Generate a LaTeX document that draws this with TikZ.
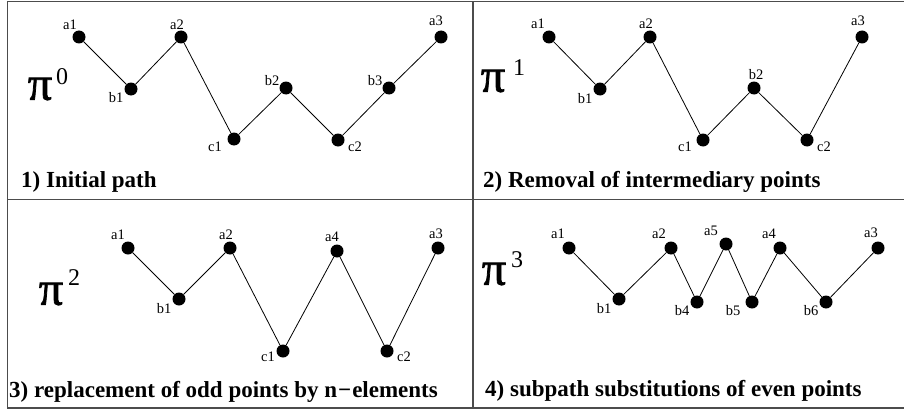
\documentclass[tikz,border=0pt]{standalone}
\usepackage{fontspec}
\setmainfont{Liberation Serif}
\newfontfamily\pifont[FakeBold=1.6]{Liberation Serif}
\usetikzlibrary{calc}
\tikzset{
  dot/.style={circle,fill=black,draw=none,minimum size=13pt,inner sep=0pt},
  lbl/.style={inner sep=0pt,font=\fontsize{14.5}{16}\selectfont},
  link/.style={draw=black,line width=0.8pt},
  frame/.style={draw=black!70,line width=1.5pt},
  ttl/.style={anchor=base west,inner sep=0pt,font=\bfseries\fontsize{23}{27}\selectfont},
  bigpi/.style={inner sep=0pt,font=\pifont\fontsize{48}{54}\selectfont},
  supd/.style={inner sep=0pt,font=\fontsize{24}{28}\selectfont}
}
\newcommand{\pnt}[6]{\node[dot] (#1) at (#2,#3) {};
  \node[lbl] (#1l) at ($(#1)+(#5,#6)$) {#4};}
\begin{document}
\begin{tikzpicture}[x=1pt,y=-1pt]
\useasboundingbox (0,0) rectangle (904,412);
% frame
\draw[frame] (904,1.5) -- (7.5,1.5) -- (7.5,408) -- (904,408);
\draw[frame] (7.5,199.5) -- (904,199.5);
\draw[frame] (473,1.5) -- (473,408);
% panel 1
\node[bigpi] (pi0) at (40,89) {π};
\node[supd] (s0) at (62,77) {0};
\pnt{pa1}{79}{37}{a1}{-9}{-12}
\pnt{pb1}{131}{89}{b1}{-15}{9}
\pnt{pa2}{181}{37}{a2}{-4}{-12}
\pnt{pc1}{234}{139}{c1}{-19}{8}
\pnt{pb2}{286}{88}{b2}{-14}{-7}
\pnt{pc2}{338}{140}{c2}{17}{7}
\pnt{pb3}{389}{88}{b3}{-14}{-7}
\pnt{pa3}{441}{37}{a3}{-5}{-16}
\draw[link] (pa1) -- (pb1) -- (pa2) -- (pc1) -- (pb2) -- (pc2) -- (pb3) -- (pa3);
\node[ttl] (t1) at (21,187) {1) Initial path};
% panel 2
\node[bigpi] (pi1) at (493,81) {π};
\node[supd] (s1) at (519,68) {1};
\pnt{qa1}{549}{37}{a1}{-11}{-13}
\pnt{qb1}{600}{89}{b1}{-15}{10}
\pnt{qa2}{650}{37}{a2}{-4}{-13}
\pnt{qc1}{703}{140}{c1}{-18}{7}
\pnt{qb2}{754}{88}{b2}{2}{-13}
\pnt{qc2}{807}{140}{c2}{17}{7}
\pnt{qa3}{862}{37}{a3}{-4}{-16}
\draw[link] (qa1) -- (qb1) -- (qa2) -- (qc1) -- (qb2) -- (qc2) -- (qa3);
\node[ttl] (t2) at (483,187) {2) Removal of intermediary points};
% panel 3
\node[bigpi] (pi2) at (51,294) {π};
\node[supd] (s2) at (74,278) {2};
\pnt{ra1}{128}{248}{a1}{-10}{-13}
\pnt{rb1}{179}{299}{b1}{-15}{10}
\pnt{ra2}{230}{248}{a2}{-4}{-13}
\pnt{rc1}{283}{351}{c1}{-15}{6}
\pnt{ra4}{337}{251}{a4}{-5}{-14}
\pnt{rc2}{387}{351}{c2}{17}{6}
\pnt{ra3}{438}{248}{a3}{-2}{-14}
\draw[link] (ra1) -- (rb1) -- (ra2) -- (rc1) -- (ra4) -- (rc2) -- (ra3);
\node[ttl] (t3) at (9,397) {3) replacement of odd points by n\kern1pt−\kern1pt elements};
% panel 4
\node[bigpi] (pi3) at (494,274) {π};
\node[supd] (s3) at (517,260) {3};
\pnt{sa1}{569}{248}{a1}{-11}{-14}
\pnt{sb1}{619}{299}{b1}{-15}{10}
\pnt{sa2}{671}{248}{a2}{-12}{-14}
\pnt{sb4}{697}{302}{b4}{-15}{9}
\pnt{sa5}{726}{244}{a5}{-15}{-13}
\pnt{sb5}{752}{302}{b5}{-19}{9}
\pnt{sa4}{780}{248}{a4}{-11}{-14}
\pnt{sb6}{826}{302}{b6}{-15}{9}
\pnt{sa3}{878}{248}{a3}{-7}{-15}
\draw[link] (sa1) -- (sb1) -- (sa2) -- (sb4) -- (sa5) -- (sb5) -- (sa4) -- (sb6) -- (sa3);
\node[ttl] (t4) at (485,396) {4) subpath substitutions of even points};
\end{tikzpicture}
\end{document}
